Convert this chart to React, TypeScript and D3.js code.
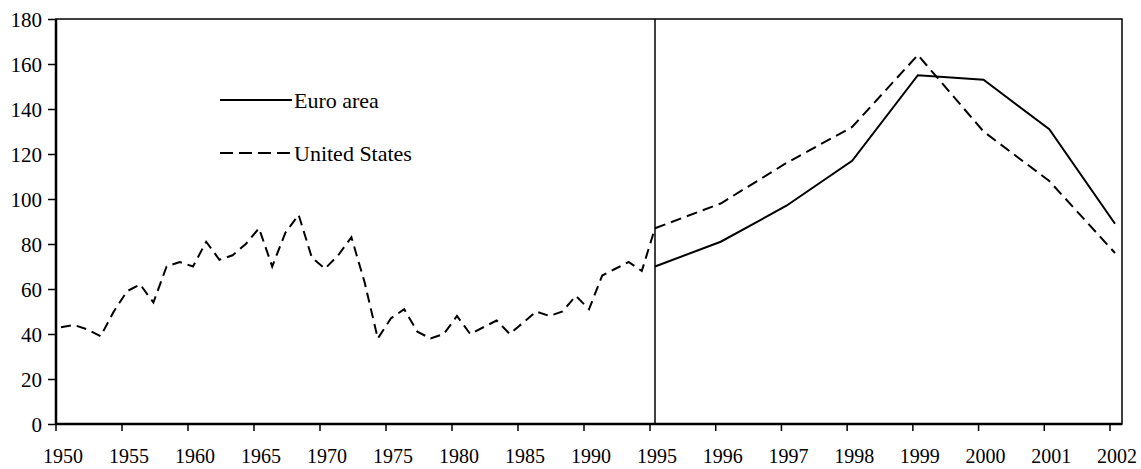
import React, { useEffect, useRef } from "react";
import * as d3 from "d3";

// Long-run series, United States only (1950-1995)
const histYears = d3.range(1950, 1996);
const usHist = [
  43, 44, 42, 39, 50, 59, 62, 54, 70, 72,
  70, 81, 73, 75, 80, 87, 70, 85, 93, 74,
  69, 75, 83, 63, 38, 47, 51, 41, 38, 40,
  48, 40, 43, 46, 40, 45, 50, 48, 50, 57,
  51, 66, 69, 72, 68, 87,
];

// Recent series (1995-2002)
const recentYears = [1995, 1996, 1997, 1998, 1999, 2000, 2001, 2002];
const euroRecent = [70, 81, 97, 117, 155, 153, 131, 89];
const usRecent = [87, 98, 116, 132, 164, 130, 108, 76];

const histTicks = [1950, 1955, 1960, 1965, 1970, 1975, 1980, 1985, 1990, 1995];
const recentTicks = [1996, 1997, 1998, 1999, 2000, 2001, 2002];
const yTicks = [0, 20, 40, 60, 80, 100, 120, 140, 160, 180];

const legendItems = [
  { label: "Euro area", dash: null },
  { label: "United States", dash: "13,6" },
];

const W = 1141;
const H = 469;
const FONT = "Liberation Serif, Tinos, Times New Roman, DejaVu Serif, serif";

export default function App() {
  const ref = useRef<SVGSVGElement>(null);

  useEffect(() => {
    const svg = d3.select(ref.current);
    svg.selectAll("*").remove();

    const left = 56,
      right = 1122,
      top = 19,
      bottom = 424;

    const y = d3.scaleLinear().domain([0, 180]).range([bottom, top]);
    const xHist = d3.scaleLinear().domain([1950, 1995]).range([61, 655]);
    const xRecent = d3.scaleLinear().domain([1995, 2002]).range([655, 1115]);
    const tickShift = -5;

    // frame
    svg
      .append("rect")
      .attr("x", left)
      .attr("y", top)
      .attr("width", right - left)
      .attr("height", bottom - top)
      .attr("fill", "none")
      .attr("stroke", "#000")
      .attr("stroke-width", 1.5);
    svg
      .append("line")
      .attr("x1", left)
      .attr("x2", left)
      .attr("y1", top)
      .attr("y2", bottom)
      .attr("stroke", "#000")
      .attr("stroke-width", 2.5);
    svg
      .append("line")
      .attr("x1", left)
      .attr("x2", right)
      .attr("y1", bottom)
      .attr("y2", bottom)
      .attr("stroke", "#000")
      .attr("stroke-width", 2.5);

    // y axis
    const yAxis = svg
      .append("g")
      .attr("transform", `translate(${left},0)`)
      .call(d3.axisLeft(y).tickValues(yTicks).tickSize(8).tickPadding(6));
    yAxis.select(".domain").remove();
    yAxis.selectAll("line").attr("stroke-width", 1.5);
    yAxis
      .selectAll("text")
      .style("font-family", FONT)
      .style("font-size", "21px")
      .attr("fill", "#000")
      .attr("dy", "0.35em");

    // x ticks and labels
    const xTickData = [
      ...histTicks.map((d) => ({ year: d, x: xHist(d) })),
      ...recentTicks.map((d) => ({ year: d, x: xRecent(d) })),
    ];
    const xg = svg.append("g");
    xg.selectAll("line")
      .data(xTickData)
      .enter()
      .append("line")
      .attr("x1", (d) => d.x + tickShift)
      .attr("x2", (d) => d.x + tickShift)
      .attr("y1", bottom)
      .attr("y2", bottom + 7)
      .attr("stroke", "#000")
      .attr("stroke-width", 1.5);
    xg.selectAll("text")
      .data(xTickData)
      .enter()
      .append("text")
      .attr("x", (d) => d.x + 2)
      .attr("y", 463)
      .attr("text-anchor", "middle")
      .style("font-family", FONT)
      .style("font-size", "20px")
      .text((d) => d.year);

    // divider at 1995
    svg
      .append("line")
      .attr("x1", xRecent(1995))
      .attr("x2", xRecent(1995))
      .attr("y1", top)
      .attr("y2", bottom)
      .attr("stroke", "#000")
      .attr("stroke-width", 1.5);

    // lines
    const histLine = d3
      .line<number>()
      .x((d, i) => xHist(histYears[i]))
      .y((d) => y(d));
    const recentLine = d3
      .line<number>()
      .x((d, i) => xRecent(recentYears[i]))
      .y((d) => y(d));

    svg
      .append("path")
      .attr("d", histLine(usHist))
      .attr("fill", "none")
      .attr("stroke", "#000")
      .attr("stroke-width", 2)
      .attr("stroke-dasharray", "10,6");
    svg
      .append("path")
      .attr("d", recentLine(usRecent))
      .attr("fill", "none")
      .attr("stroke", "#000")
      .attr("stroke-width", 2)
      .attr("stroke-dasharray", "11,6");
    svg
      .append("path")
      .attr("d", recentLine(euroRecent))
      .attr("fill", "none")
      .attr("stroke", "#000")
      .attr("stroke-width", 2);

    // legend
    const lg = svg
      .selectAll(".legend")
      .data(legendItems)
      .enter()
      .append("g")
      .attr("class", "legend")
      .attr("transform", (d, i) => `translate(220,${100 + i * 53})`);
    lg.append("line")
      .attr("x1", 0)
      .attr("x2", 72)
      .attr("y1", 0)
      .attr("y2", 0)
      .attr("stroke", "#000")
      .attr("stroke-width", 2)
      .attr("stroke-dasharray", (d) => d.dash);
    lg.append("text")
      .attr("x", 74)
      .attr("y", 8)
      .style("font-family", FONT)
      .style("font-size", "22px")
      .text((d) => d.label);
  }, []);

  return (
    <svg
      ref={ref}
      width={W}
      height={H}
      style={{ position: "absolute", left: 0, top: 0, background: "#fff" }}
    ></svg>
  );
}
